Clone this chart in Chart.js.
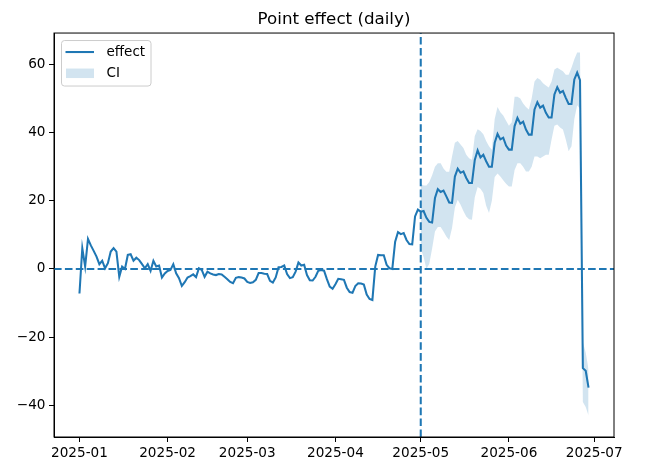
<!DOCTYPE html>
<html lang="en">
<head>
    <meta charset="UTF-8">
    <title>Point effect (daily)</title>
    <script src="https://cdn.jsdelivr.net/npm/chart.js"></script>
    <style>
        html, body { margin: 0; padding: 0; background: #fff; }
        #wrap { width: 647px; height: 475px; }
    </style>
</head>
<body>
    <div id="wrap"><canvas id="myChart"></canvas></div>

    <script>
        // daily effect, 2025-01-01 .. 2025-06-29 (day index 0..179)
        const effect = [
            -7.2, 6.1, 0.7, 8.8, 6.9, 5.3, 3.6, 1.4, 2.4, 0.2,
            1.7, 5.1, 6.1, 5.1, -2.3, 0.7, 0.0, 4.1, 4.3, 2.4,
            3.3, 2.6, 1.4, 0.2, 1.4, -0.6, 2.4, 0.7, 1.0, -2.5,
            -1.3, -0.6, -0.3, 1.4, -1.3, -2.7, -5.0, -3.9, -2.5, -2.1,
            -1.6, -2.4, 0.2, -0.3, -2.3, -0.8, -1.3, -1.6, -1.8, -1.5,
            -1.6, -2.3, -3.0, -3.8, -4.2, -2.6, -2.4, -2.5, -2.8, -3.8,
            -4.1, -3.9, -3.2, -1.2, -1.2, -1.4, -1.5, -3.5, -4.0, -2.5,
            0.5, 0.6, 1.0, -1.5, -2.7, -2.4, -0.8, 1.9, 1.0, 1.2,
            -1.8, -3.3, -3.4, -2.3, -0.5, -0.3, -0.5, -3.0, -5.2, -5.8,
            -4.5, -2.9, -3.0, -3.2, -5.5, -6.8, -7.0, -5.0, -4.2, -4.3,
            -4.6, -7.5, -8.8, -9.1, 0.7, 4.1, 4.0, 4.0, 1.2, 0.2,
            0.0, 8.0, 10.8, 10.2, 10.5, 8.5, 7.3, 7.2, 15.4, 17.4,
            16.8, 17.0, 15.0, 13.8, 13.6, 20.8, 23.4, 22.6, 23.0, 21.3,
            19.5, 19.4, 27.1, 29.4, 28.2, 28.6, 26.7, 25.2, 25.2, 32.0,
            34.8, 32.7, 33.5, 31.6, 30.0, 30.0, 37.0, 39.6, 38.0, 38.5,
            36.2, 35.0, 35.0, 41.9, 44.3, 42.6, 43.2, 40.9, 39.4, 39.4,
            46.8, 48.9, 47.3, 47.9, 45.8, 44.4, 44.4, 51.2, 53.3, 51.7,
            52.2, 50.2, 48.4, 48.4, 55.6, 57.6, 55.4, -29.1, -29.9, -34.8
        ];

        // CI only for the post period, starting at 2025-05-01 (day 120)
        const postStart = 120;
        const ciUpper = [
            25.0, 24.5, 24.5, 25.5, 27.5, 30.0, 31.0, 31.0, 29.5, 28.5,
            28.5, 33.0, 37.0, 37.5, 36.5, 35.5, 33.5, 32.5, 32.0, 39.0,
            41.0, 40.5, 39.5, 37.5, 36.0, 35.0, 44.0, 47.5, 46.0, 45.0,
            43.5, 42.0, 43.0, 50.5, 50.5, 50.0, 48.5, 47.5, 46.8, 50.0,
            55.0, 56.0, 55.5, 54.5, 53.8, 53.2, 55.0, 58.5, 59.0, 58.5,
            58.0, 57.0, 57.0, 59.0, 61.5, 63.5, 63.5, -21.5, -24.5, -29.5
        ];
        const ciLower = [
            6.0, 3.5, 0.0, 1.5, 6.0, 11.0, 12.3, 12.3, 11.0, 9.5,
            8.5, 12.0, 18.0, 20.3, 18.8, 17.0, 15.4, 14.6, 14.4, 21.0,
            24.0, 23.5, 22.3, 18.5, 16.4, 20.0, 27.0, 28.0, 27.1, 26.0,
            25.0, 24.2, 24.2, 29.0, 31.0, 31.0, 30.0, 28.6, 28.6, 30.0,
            33.0, 33.0, 32.5, 33.0, 33.5, 33.5, 38.0, 42.0, 42.4, 41.5,
            40.9, 38.0, 34.5, 36.0, 44.0, 48.0, 47.0, -39.0, -40.5, -43.0
        ];

        const tickDays = [0, 31, 59, 90, 120, 151, 181];
        const tickLabels = ['2025-01', '2025-02', '2025-03', '2025-04', '2025-05', '2025-06', '2025-07'];
        const yTicks = [-40, -20, 0, 20, 40, 60];

        const xMin = -8.95, xMax = 187.95;
        const yMin = -49.3, yMax = 69.2;

        const blue = '#1f77b4';
        const band = 'rgba(31, 119, 180, 0.2)';
        const font = "'DejaVu Sans', sans-serif";
        const lw = 2.05;

        const effectPts = effect.map((v, i) => ({ x: i, y: v }));
        const upperPts = ciUpper.map((v, i) => ({ x: postStart + i, y: v }));
        const lowerPts = ciLower.map((v, i) => ({ x: postStart + i, y: v }));

        // frame + matplotlib-style legend inside the axes
        const framePlugin = {
            id: 'frame',
            afterDraw(chart) {
                const { ctx, chartArea: a } = chart;
                ctx.save();
                ctx.strokeStyle = '#000';
                ctx.lineWidth = 1;
                ctx.strokeRect(a.left, a.top, a.right - a.left, a.bottom - a.top);

                const bx = a.left + 7.5, by = a.top + 7.5, bw = 89.5, bh = 45.5, r = 3;
                ctx.beginPath();
                ctx.roundRect(bx, by, bw, bh, r);
                ctx.fillStyle = 'rgba(255,255,255,0.8)';
                ctx.fill();
                ctx.strokeStyle = '#cccccc';
                ctx.stroke();

                ctx.strokeStyle = blue;
                ctx.lineWidth = lw;
                ctx.beginPath();
                ctx.moveTo(bx + 4, by + 11.5);
                ctx.lineTo(bx + 32.5, by + 11.5);
                ctx.stroke();

                ctx.fillStyle = band;
                ctx.fillRect(bx + 4.5, by + 28, 28, 9.5);

                ctx.fillStyle = '#000';
                ctx.font = '13.5px ' + font;
                ctx.textBaseline = 'middle';
                ctx.fillText('effect', bx + 45, by + 11.5);
                ctx.fillText('CI', bx + 45, by + 33);
                ctx.restore();
            }
        };

        const ctx = document.getElementById('myChart').getContext('2d');
        const myChart = new Chart(ctx, {
            type: 'line',
            data: {
                datasets: [
                    {
                        label: 'zero',
                        data: [{ x: xMin, y: 0 }, { x: xMax, y: 0 }],
                        borderColor: blue,
                        borderWidth: lw,
                        borderDash: [7.6, 3.3],
                        pointRadius: 0,
                        order: 0
                    },
                    {
                        label: 'intervention',
                        data: [{ x: postStart, y: yMin }, { x: postStart, y: yMax }],
                        borderColor: blue,
                        borderWidth: lw,
                        borderDash: [7.6, 3.3],
                        pointRadius: 0,
                        order: 0
                    },
                    {
                        label: 'effect',
                        data: effectPts,
                        borderColor: blue,
                        borderWidth: lw,
                        pointRadius: 0,
                        tension: 0,
                        fill: false,
                        order: 1
                    },
                    {
                        label: 'CI lower',
                        data: lowerPts,
                        borderWidth: 0,
                        borderColor: 'rgba(0,0,0,0)',
                        pointRadius: 0,
                        fill: false,
                        order: 3
                    },
                    {
                        label: 'CI',
                        data: upperPts,
                        borderWidth: 0,
                        borderColor: 'rgba(0,0,0,0)',
                        backgroundColor: band,
                        pointRadius: 0,
                        fill: '-1',
                        order: 2
                    }
                ]
            },
            options: {
                responsive: true,
                maintainAspectRatio: false,
                animation: false,
                layout: { padding: { left: 0, right: 33, top: 0, bottom: 0 } },
                scales: {
                    x: {
                        type: 'linear',
                        min: xMin,
                        max: xMax,
                        afterBuildTicks: (scale) => { scale.ticks = tickDays.map(v => ({ value: v })); },
                        afterFit: (scale) => { scale.height = 38; },
                        ticks: {
                            autoSkip: false,
                            maxRotation: 0,
                            padding: 3,
                            color: '#000',
                            font: { family: font, size: 13.6 },
                            callback: (v) => tickLabels[tickDays.indexOf(v)]
                        },
                        grid: { drawOnChartArea: false, drawTicks: true, tickLength: 5, tickColor: '#000' },
                        border: { display: true, color: '#000' }
                    },
                    y: {
                        type: 'linear',
                        min: yMin,
                        max: yMax,
                        afterBuildTicks: (scale) => { scale.ticks = yTicks.map(v => ({ value: v })); },
                        afterFit: (scale) => { scale.width = 54; },
                        ticks: {
                            padding: 3.5,
                            color: '#000',
                            font: { family: font, size: 13.6 },
                            callback: (v) => v < 0 ? '\u2212' + Math.abs(v) : String(v)
                        },
                        grid: { drawOnChartArea: false, drawTicks: true, tickLength: 5, tickColor: '#000' },
                        border: { display: true, color: '#000' }
                    }
                },
                plugins: {
                    legend: { display: false },
                    tooltip: { enabled: false },
                    title: {
                        display: true,
                        fullSize: false,
                        text: 'Point effect (daily)',
                        color: '#000',
                        font: { family: font, size: 16.7, weight: 'normal' },
                        padding: { top: 9.5, bottom: 3.5 }
                    }
                }
            },
            plugins: [framePlugin]
        });
    </script>
</body>
</html>
